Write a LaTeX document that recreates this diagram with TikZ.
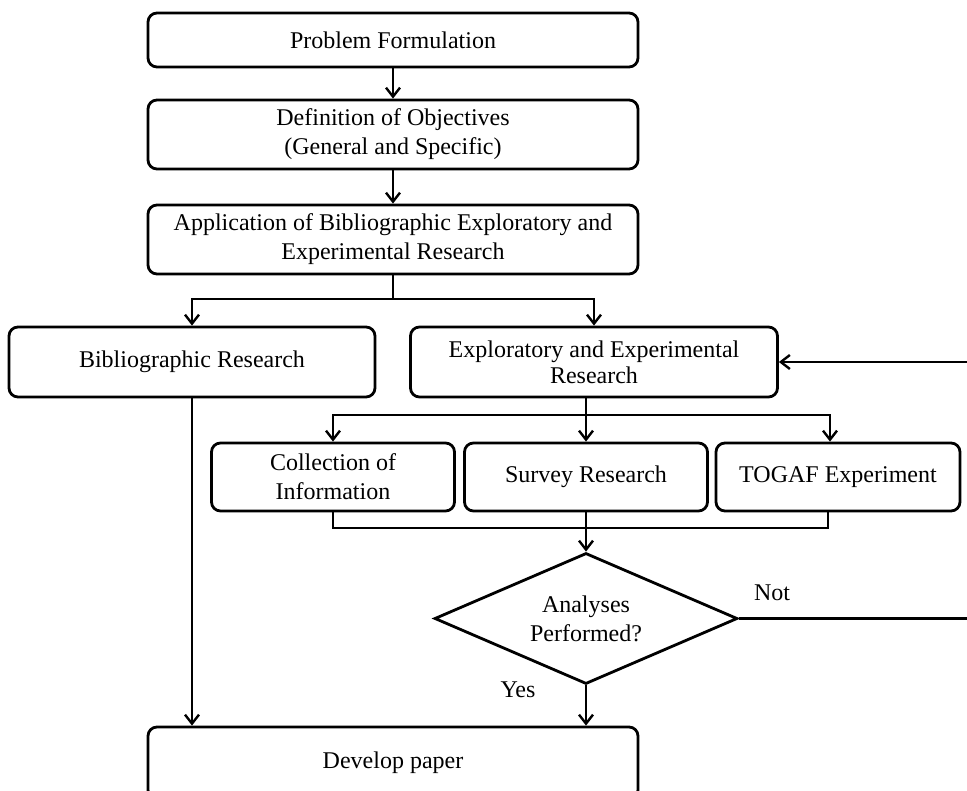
\documentclass[tikz,border=0pt]{standalone}
\usepackage{fontspec}
\setmainfont{Liberation Serif}
\usetikzlibrary{arrows.meta,shapes.geometric,calc}
\begin{document}
\begin{tikzpicture}[x=1pt,y=-1pt,
  txt/.style={font=\fontsize{24}{29}\selectfont, align=center},
  stepbox/.style={txt, draw, line width=2.8pt, rounded corners=9pt, inner sep=0pt},
  decision/.style={txt, draw, line width=2.8pt, diamond, aspect=2.3, inner sep=0pt,
    minimum width=303pt, minimum height=131pt},
  wire/.style={line width=2.4pt},
  link/.style={wire, -{Straight Barb[length=9pt,width=14pt]}}
]
\useasboundingbox (0,0) rectangle (967,791);
\clip (0,0) rectangle (967,791);
\fill[white] (0,0) rectangle (967,791);

% main column
\node[stepbox, minimum width=490pt, minimum height=54pt] (pf) at (393,40) {Problem Formulation};
\node[stepbox, minimum width=490pt, minimum height=69pt] (doo) at (393,134.5) {Definition of Objectives\\(General and Specific)};
\node[stepbox, minimum width=490pt, minimum height=69pt] (app) at (393,239.5) {Application of Bibliographic Exploratory and\\Experimental Research};

% two branches
\node[stepbox, minimum width=366pt, minimum height=70pt] (bib) at (192,362) {Bibliographic Research};
\node[stepbox, minimum width=367pt, minimum height=70pt, font=\fontsize{24}{26}\selectfont] (exr) at (594,362) {Exploratory and Experimental\\Research};

% three activities
\node[stepbox, minimum width=243pt, minimum height=68pt] (col) at (333,477) {Collection of\\Information};
\node[stepbox, minimum width=243pt, minimum height=68pt] (sur) at (586,477) {Survey Research};
\node[stepbox, minimum width=244pt, minimum height=68pt] (tog) at (838,477) {TOGAF Experiment};

% decision and result
\node[decision] (dia) at (586,618.5) {Analyses\\Performed?};
\node[stepbox, minimum width=490pt, minimum height=72pt] (dev) at (393,763) {Develop paper};

\node[txt] (no) at (772,593) {Not};
\node[txt] (yes) at (518,690) {Yes};

% connectors
\draw[link] (pf) -- (doo);
\draw[link] (doo) -- (app);

\coordinate (f1) at (393,299);
\draw[wire] (app.south) -- (f1);
\draw[link] (f1) -| (bib.north);
\draw[link] (f1) -| (exr.north);

\coordinate (f2) at (586,415);
\coordinate (f3) at (830,415);
\draw[wire] (exr.south -| f2) -- (f2);
\draw[link] (f2) -| (col.north);
\draw[link] (f2) -- (f2 |- sur.north);
\draw[link] (f2) -- (f3) -- (f3 |- tog.north);

\coordinate (m) at (586,528);
\coordinate (tm) at (828,528);
\draw[wire] (col.south) |- (m);
\draw[wire] (tog.south -| tm) -- (tm) -- (m);
\draw[wire] (sur.south) -- (m);
\draw[link] (m) -- (dia.north);

\draw[link] (dia.south) -- (dev.north -| dia.south);
\draw[link] (bib.south) -- (bib.south |- dev.north);

\coordinate (r) at (975,618.5);
\draw[link] (dia.east) -- (r) |- (exr.east);
\end{tikzpicture}
\end{document}
